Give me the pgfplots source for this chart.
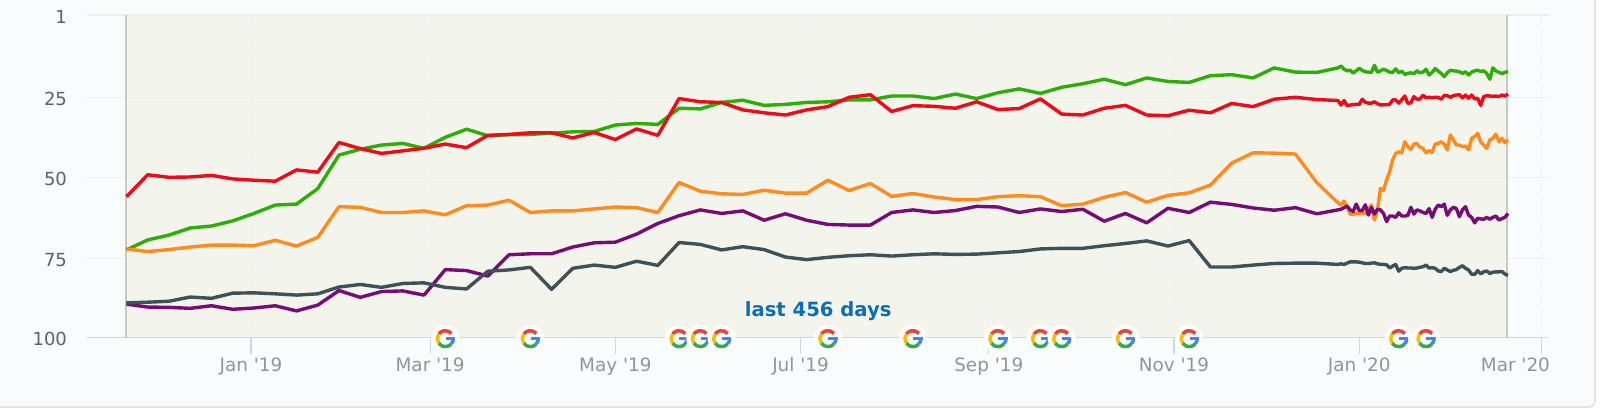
\documentclass[border=0pt]{standalone}
\usepackage{fontspec}
\setmainfont{DejaVu Sans}
\usepackage{pgfplots}
\usepackage{pgfplotstable}
\pgfplotsset{compat=1.18}
\definecolor{card}{HTML}{F8FCFD}
\definecolor{band}{HTML}{F3F4EC}
\definecolor{edge}{HTML}{C9C9C2}
\definecolor{gridc}{HTML}{EEEEEA}
\definecolor{axisc}{HTML}{CCD6EB}
\definecolor{cgreen}{HTML}{2DAD08}
\definecolor{cred}{HTML}{EE0A18}
\definecolor{corange}{HTML}{FF8A1E}
\definecolor{cpurple}{HTML}{760C74}
\definecolor{cdark}{HTML}{3E5157}
\definecolor{gred}{HTML}{EA4335}
\definecolor{gyellow}{HTML}{FBBC05}
\definecolor{ggreen}{HTML}{34A853}
\definecolor{gblue}{HTML}{4285F4}
\definecolor{lasttext}{HTML}{0C6CB5}
\pgfdeclareplotmark{gicon}{%
  \pgfsetfillcolor{white}%
  \pgfpathcircle{\pgfpointorigin}{7pt}\pgfusepathqfill
  \pgfsetlinewidth{1.75pt}\pgfsetbuttcap
  \pgfsetstrokecolor{gred}%
  \pgfpathmoveto{\pgfpointpolar{40}{4pt}}\pgfpatharc{40}{145}{4pt}\pgfusepathqstroke
  \pgfsetstrokecolor{gyellow}%
  \pgfpathmoveto{\pgfpointpolar{145}{4pt}}\pgfpatharc{145}{215}{4pt}\pgfusepathqstroke
  \pgfsetstrokecolor{ggreen}%
  \pgfpathmoveto{\pgfpointpolar{215}{4pt}}\pgfpatharc{215}{320}{4pt}\pgfusepathqstroke
  \pgfsetstrokecolor{gblue}%
  \pgfpathmoveto{\pgfpointpolar{320}{4pt}}\pgfpatharc{320}{360}{4pt}\pgfusepathqstroke
  \pgfpathmoveto{\pgfqpoint{4.85pt}{0pt}}\pgfpathlineto{\pgfqpoint{0.2pt}{0pt}}\pgfusepathqstroke
}
\pgfplotstableread{
d G R O P D
-41 72.8 56.3 72.5 89.6 89.2
-34 69.7 49.5 73.3 90.5 89.0
-27 68.2 50.3 72.7 90.6 88.7
-20 66.0 50.2 71.9 90.9 87.4
-13 65.4 49.7 71.3 90.1 87.8
-6 63.8 50.8 71.3 91.2 86.2
1 61.5 51.2 71.5 90.8 86.1
8 58.9 51.5 69.8 90.1 86.4
15 58.6 48.0 71.6 91.7 86.8
22 53.8 48.7 68.9 89.9 86.4
29 43.4 39.5 59.4 85.4 84.3
36 41.6 41.4 59.6 87.5 83.5
43 40.3 42.9 61.2 85.7 84.4
50 39.8 42.1 61.2 85.5 83.2
57 41.3 41.3 60.7 86.8 83.0
64 37.9 40.0 61.9 78.9 84.4
71 35.4 41.1 59.1 79.2 84.9
78 37.4 37.3 58.9 80.9 79.4
85 37.1 37.0 57.4 74.3 79.0
92 37.0 36.5 61.2 74.0 78.2
99 36.6 36.5 60.7 74.0 85.0
106 36.2 38.1 60.7 71.9 78.5
113 36.1 36.4 60.1 70.6 77.5
120 34.1 38.6 59.5 70.4 78.2
127 33.6 35.3 59.7 67.9 76.3
134 33.9 37.3 61.2 64.6 77.6
141 28.9 25.9 51.9 62.2 70.5
148 29.1 26.9 54.6 60.4 71.1
155 27.1 27.1 55.4 61.5 72.8
162 26.4 29.4 55.6 60.7 71.8
169 28.0 30.3 54.3 63.6 72.7
176 27.7 31.0 55.2 61.6 75.0
183 27.1 29.4 55.2 63.6 75.8
190 26.9 28.4 51.2 64.9 75.1
197 26.3 25.5 54.4 65.1 74.6
204 26.3 24.7 52.2 65.1 74.3
211 25.1 29.9 56.2 61.2 74.7
218 25.1 28.1 55.3 60.4 74.3
225 25.9 28.3 56.4 61.2 74.0
232 24.5 28.9 57.2 60.6 74.2
239 25.9 26.9 57.2 59.3 74.1
246 24.1 29.3 56.3 59.5 73.7
253 22.9 29.0 56.0 61.2 73.3
260 24.3 26.0 56.3 60.1 72.5
267 22.4 30.7 59.1 60.9 72.3
274 21.3 31.0 58.6 60.2 72.3
281 19.9 28.9 56.5 63.9 71.5
288 21.6 28.0 55.0 61.5 70.8
295 19.5 31.0 58.0 64.4 70.0
302 20.6 31.2 55.9 59.9 71.6
309 20.9 29.5 55.1 61.2 69.9
316 18.8 30.3 52.7 58.0 78.1
323 18.5 27.4 45.9 58.7 78.1
330 19.5 28.4 42.7 59.8 77.5
337 16.4 26.1 42.8 60.5 77.0
344 17.7 25.5 43.1 59.7 76.9
351 17.8 26.2 51.9 61.6 76.9
358 16.4 26.5 58.2 60.4 77.3
359 15.8 27.9 58.9 60.2 77.1
360 16.8 26.5 57.7 59.7 77.3
361 17.3 28.1 59.4 59.2 76.9
362 17.1 27.9 61.7 60.4 76.5
363 18.0 27.8 61.7 60.9 76.5
364 17.3 27.7 61.5 58.6 76.5
365 16.5 27.7 61.5 60.6 76.6
366 17.2 26.1 61.3 60.6 76.8
367 17.6 27.1 61.5 58.8 77.0
368 17.7 27.3 60.4 62.0 77.0
369 17.8 27.3 58.9 59.6 76.9
370 15.6 26.9 63.5 61.7 76.8
371 17.7 27.5 60.4 60.2 77.1
372 17.3 27.9 53.7 60.4 77.3
373 16.8 27.8 54.4 61.5 77.3
374 17.2 27.8 51.1 64.0 77.4
375 17.7 27.7 48.6 62.3 78.4
376 17.8 26.3 44.9 62.3 77.8
377 16.7 26.3 42.9 62.7 77.3
378 17.9 27.3 42.4 61.3 79.4
379 17.4 26.3 42.7 62.3 78.5
380 18.4 25.1 39.3 62.3 78.3
381 18.1 27.4 40.8 62.1 78.4
382 17.9 27.2 41.6 59.6 78.4
383 18.2 25.3 40.0 61.7 78.5
384 17.3 26.1 39.8 60.4 78.4
385 17.9 26.0 41.0 60.7 78.2
386 17.7 24.9 41.3 61.2 78.0
387 16.8 25.6 42.7 61.5 77.5
388 18.6 25.5 42.0 60.0 78.4
389 17.8 25.6 42.6 62.7 78.3
390 16.6 25.5 40.0 60.2 78.5
391 17.4 25.5 39.8 58.9 79.3
392 18.1 26.1 39.3 59.4 79.5
393 19.1 24.9 40.0 58.6 78.5
394 17.9 25.0 41.8 62.1 79.0
395 17.1 25.5 37.2 60.4 79.5
396 17.3 25.0 38.7 59.6 79.1
397 17.4 24.8 40.3 60.0 78.9
398 17.6 24.7 40.3 62.5 78.2
399 18.1 25.7 40.8 60.4 77.7
400 17.6 24.8 40.6 59.4 78.5
401 18.6 25.8 41.8 62.0 79.0
402 17.7 24.8 38.2 62.7 80.3
403 17.3 26.0 37.7 64.4 80.4
404 17.1 25.8 36.7 63.0 79.2
405 17.5 28.0 39.3 63.2 80.2
406 17.3 25.3 40.3 63.3 79.6
407 18.1 25.0 41.3 62.7 79.3
408 19.9 25.1 38.7 63.3 80.1
409 16.4 25.2 38.2 62.7 79.7
410 17.3 25.1 36.9 62.3 79.6
411 17.8 25.3 39.3 63.5 79.6
412 18.1 24.8 38.2 63.1 79.5
413 17.8 25.1 39.6 62.7 80.3
414 17.5 24.5 38.7 61.5 80.7
}\ranks
\pgfplotstableread{
d y
64 100.3
92 100.3
141 100.3
148 100.3
155 100.3
190 100.3
218 100.3
246 100.3
260 100.3
267 100.3
288 100.3
309 100.3
378 100.3
387 100.3
}\updates
\begin{document}
\begin{tikzpicture}
\useasboundingbox (0,0) rectangle (800pt,208pt);
\fill[white] (0,0) rectangle (800pt,208pt);
\fill[card,draw=gray!22,line width=0.8pt,rounded corners=3pt] (-10pt,4.5pt) rectangle (797.5pt,220pt);
\fill[band] (63.5pt,39.15pt) rectangle (753.5pt,200.5pt);
\begin{axis}[
  at={(43.5pt,200.5pt)},anchor=north west,scale only axis,
  width=731pt,height=161.35pt,
  xmin=-54,xmax=427.5,ymin=0,ymax=100,
  y dir=reverse,
  axis line style={draw=none},
  clip=false,
  xtick={0,59,120,181,243,304,365,425},
  xticklabels={\strut Jan \textquotesingle19,\strut Mar \textquotesingle19,\strut May \textquotesingle19,\strut Jul \textquotesingle19,\strut Sep \textquotesingle19,\strut Nov \textquotesingle19,\strut Jan \textquotesingle20,\makebox[0pt]{\hspace{-26pt}\strut Mar \textquotesingle20}},
  ytick={0,25.6,50.3,75.4,100},
  yticklabels={1,25,50,75,100},
  xtick pos=lower,
  ytick pos=lower,
  x tick style={draw=axisc,line width=0.6pt},
  y tick style={draw=none},
  major tick length=8pt,
  tick align=outside,
  xmajorgrids,ymajorgrids,
  x grid style={draw=gridc,line width=0.6pt,dash pattern=on 4pt off 3pt},
  y grid style={draw=gridc,line width=0.8pt},
  x tick label style={font=\fontsize{9.2}{11}\selectfont,text=black!42,yshift=2.5pt},
  y tick label style={font=\fontsize{9}{11}\selectfont,text=black!62,xshift=1.5pt,yshift=-0.8pt},
  /pgf/number format/assume math mode=true,
  every axis plot/.append style={line width=1.7pt,line join=round},
]
\addplot[axisc,no markers,line width=0.8pt,forget plot] coordinates {(-54,100) (427.5,100)};
\addplot[edge,no markers,line width=1pt,forget plot] coordinates {(-41,0) (-41,100)};
\addplot[edge,no markers,line width=1pt,forget plot] coordinates {(413.7,0) (413.7,100)};
\addplot[cgreen,no markers] table[x=d,y=G] {\ranks};
\addplot[cred,no markers] table[x=d,y=R] {\ranks};
\addplot[corange,no markers] table[x=d,y=O] {\ranks};
\addplot[cpurple,no markers] table[x=d,y=P] {\ranks};
\addplot[cdark,no markers] table[x=d,y=D] {\ranks};
\addplot[only marks,mark=gicon] table[x=d,y=y] {\updates};
\node[font=\fontsize{9.8}{12}\selectfont\bfseries,text=lasttext] at (axis cs:186.8,91.9) {last 456 days};
\end{axis}
\end{tikzpicture}
\end{document}
